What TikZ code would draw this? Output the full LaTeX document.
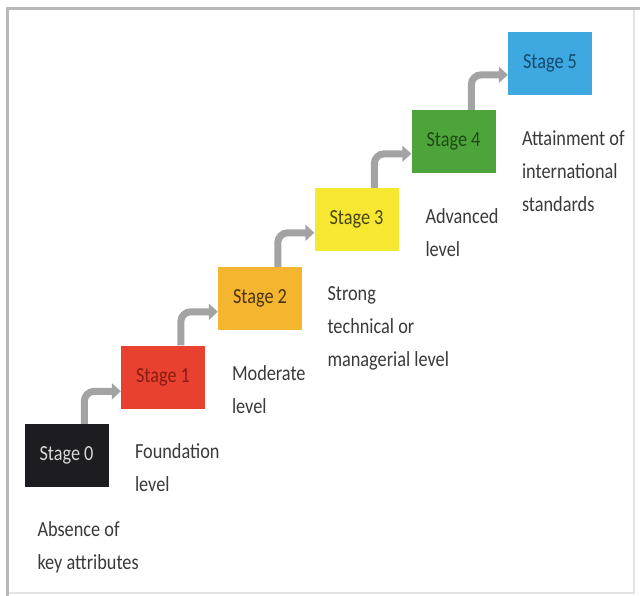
\documentclass[tikz,border=0pt]{standalone}
\usepackage{fontspec}
\setmainfont{Carlito}[FakeStretch=0.85]
\usetikzlibrary{arrows.meta}
\definecolor{c0}{HTML}{1C1C22}
\definecolor{t0}{HTML}{D8D8D8}
\definecolor{c1}{HTML}{E8412F}
\definecolor{t1}{HTML}{8A1C12}
\definecolor{c2}{HTML}{F4B52F}
\definecolor{t2}{HTML}{4A3510}
\definecolor{c3}{HTML}{F6E830}
\definecolor{t3}{HTML}{4A4510}
\definecolor{c4}{HTML}{4DA43A}
\definecolor{t4}{HTML}{1E4A14}
\definecolor{c5}{HTML}{3EA8E0}
\definecolor{t5}{HTML}{174A6E}
\definecolor{arrgray}{HTML}{A3A3A3}
\definecolor{labtext}{HTML}{3A3A3A}
\definecolor{framegray}{HTML}{B8B8B8}
\tikzset{
  stagebox/.style={minimum width=84pt, minimum height=63pt, inner sep=0pt, font=\fontsize{21.5}{24}\selectfont},
  lab/.style={anchor=north west, inner sep=0pt, align=left, text=labtext, font=\fontsize{21.5}{33}\selectfont},
  arr/.style={draw=arrgray, line width=7pt, rounded corners=10pt, -{Triangle[width=16pt,length=9pt]}}
}
\begin{document}
\begin{tikzpicture}[x=1pt,y=-1pt]
\useasboundingbox (0,0) rectangle (640,596);
\fill[white] (0,0) rectangle (640,596);
% frame
\draw[framegray!40, line width=1.5pt] (634,9) -- (634,593) -- (7,593);
\draw[framegray, line width=3pt] (7.5,596) -- (7.5,9) -- (640,9);
% boxes
\node[stagebox, fill=c0, text=t0] (s0) at (66.5,455.5) {Stage 0};
\node[stagebox, fill=c1, text=t1] (s1) at (163,377) {Stage 1};
\node[stagebox, fill=c2, text=t2] (s2) at (260,298.5) {Stage 2};
\node[stagebox, fill=c3, text=t3] (s3) at (356.5,219.5) {Stage 3};
\node[stagebox, fill=c4, text=t4] (s4) at (453.5,141.5) {Stage 4};
\node[stagebox, fill=c5, text=t5] (s5) at (550,63.5) {Stage 5};
% arrows
\draw[arr] ([xshift=60pt]s0.north west) |- ([yshift=-46pt]s1.north west);
\draw[arr] ([xshift=60pt]s1.north west) |- ([yshift=-45pt]s2.north west);
\draw[arr] ([xshift=60pt]s2.north west) |- ([yshift=-45pt]s3.north west);
\draw[arr] ([xshift=60pt]s3.north west) |- ([yshift=-44pt]s4.north west);
\draw[arr] ([xshift=60pt]s4.north west) |- ([yshift=-43pt]s5.north west);
% labels
\node[lab] (l0) at ([xshift=13pt,yshift=-34pt]s0.south west) {Absence of\\key attributes};
\node[lab] (l1) at ([xshift=14pt,yshift=-35pt]s1.south west) {Foundation\\level};
\node[lab] (l2) at ([xshift=14pt,yshift=-35pt]s2.south west) {Moderate\\level};
\node[lab] (l3) at ([xshift=13pt,yshift=-35pt]s3.south west) {Strong\\technical or\\managerial level};
\node[lab] (l4) at ([xshift=14pt,yshift=-35pt]s4.south west) {Advanced\\level};
\node[lab] (l5) at ([xshift=14pt,yshift=-35pt]s5.south west) {Attainment of\\international\\standards};
\end{tikzpicture}
\end{document}
